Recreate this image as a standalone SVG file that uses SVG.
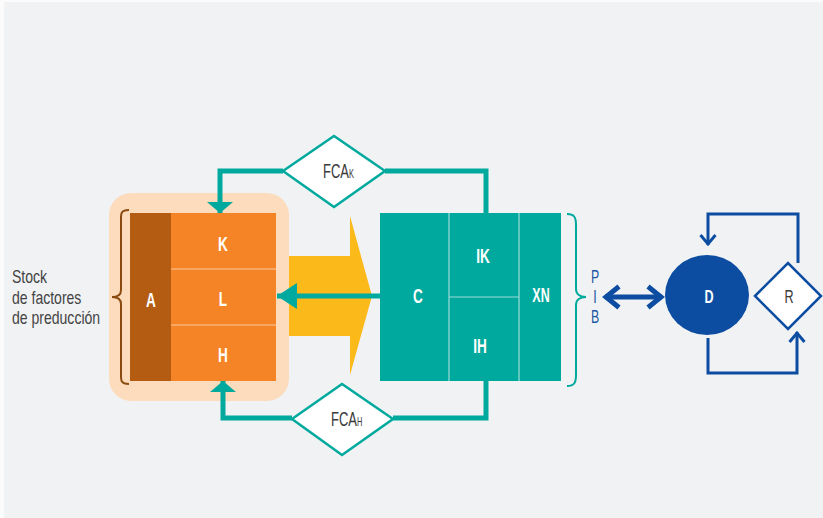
<svg xmlns="http://www.w3.org/2000/svg" width="823" height="518" viewBox="0 0 823 518">
<style>
text{font-family:"Liberation Sans","Arial",sans-serif}
.w{fill:#fff;font-weight:bold;font-size:19.5px;text-anchor:middle}
.g{fill:#444;font-size:18px}
.teal{stroke:#00a99d;stroke-width:5;fill:none}
.blue{stroke:#0d4da1;stroke-width:3;fill:none}
.div{stroke:#9fdcd6;stroke-width:1.2}
.odiv{stroke:#fbc9a0;stroke-width:1.2}
</style>
<defs>
<marker id="ta" markerUnits="userSpaceOnUse" markerWidth="26" markerHeight="26" refX="20" refY="13" orient="auto" viewBox="0 0 26 26">
<path d="M0,0 L20,13 L0,26 Z" fill="#00a99d"/>
</marker>
<marker id="tb" markerUnits="userSpaceOnUse" markerWidth="12" markerHeight="26" refX="11" refY="13" orient="auto" viewBox="0 0 12 26">
<path d="M0,0 L11,13 L0,26 Z" fill="#00a99d"/>
</marker>
<marker id="bc" markerUnits="userSpaceOnUse" markerWidth="14" markerHeight="18" refX="12" refY="9" orient="auto" viewBox="0 0 14 18">
<path d="M2,1.5 L11,9 L2,16.5" fill="none" stroke="#0d4da1" stroke-width="3"/>
</marker>
<marker id="bd" markerUnits="userSpaceOnUse" markerWidth="20" markerHeight="26" refX="17" refY="13" orient="auto-start-reverse" viewBox="0 0 20 26">
<path d="M3,2.5 L16,13 L3,23.5" fill="none" stroke="#0d4da1" stroke-width="5"/>
</marker>
</defs>
<rect width="823" height="518" fill="#fbfbfc"/>
<rect x="4" y="2" width="819" height="516" fill="#f1f2f4"/>

<g id="stock-label">
<text class="g" transform="translate(12,283) scale(0.78,1)">Stock</text>
<text class="g" transform="translate(12,304) scale(0.78,1)">de factores</text>
<text class="g" transform="translate(12,324) scale(0.78,1)">de preducción</text>
</g>

<g id="factores">
<rect x="109" y="193" width="180" height="208" rx="22" fill="#fddcbd"/>
<path d="M129,210 C120,210 121,214 121,222 L121,290 C121,295 117,297 112,297 C117,297 121,299 121,304 L121,372 C121,380 120,384 129,384" fill="none" stroke="#8a4a10" stroke-width="2"/>
<rect x="130" y="213" width="41" height="168" fill="#b35c12"/>
<rect x="171" y="213" width="105" height="168" fill="#f58426"/>
<line class="odiv" x1="171" y1="269" x2="276" y2="269"/>
<line class="odiv" x1="171" y1="325" x2="276" y2="325"/>
<text class="w" transform="translate(151,307) scale(0.7,1)">A</text>
<text class="w" transform="translate(223,251) scale(0.7,1)">K</text>
<text class="w" transform="translate(223,306) scale(0.7,1)">L</text>
<text class="w" transform="translate(223,362) scale(0.7,1)">H</text>
</g>

<g id="flujo">
<path d="M289,256 L350,256 L350,216 L372,296 L350,375 L350,336 L289,336 Z" fill="#fbb91a"/>
</g>

<g id="pib">
<rect x="380" y="213" width="181" height="168" fill="#00a99d"/>
<line class="div" x1="449" y1="213" x2="449" y2="381"/>
<line class="div" x1="519" y1="213" x2="519" y2="381"/>
<line class="div" x1="449" y1="297" x2="519" y2="297"/>
<text class="w" transform="translate(418,303) scale(0.7,1)">C</text>
<text class="w" transform="translate(483,263) scale(0.7,1)">IK</text>
<text class="w" transform="translate(480,353) scale(0.7,1)">IH</text>
<text class="w" transform="translate(541,302) scale(0.64,1)">XN</text>
<path d="M567,214 C574,214 576,217 576,225 L576,289 C576,294 580,297 586,297 C580,297 576,300 576,305 L576,375 C576,383 574,386 567,386" fill="none" stroke="#00a99d" stroke-width="2"/>
<text transform="translate(595,283) scale(0.65,1)" fill="#1a57a5" font-size="19" text-anchor="middle">P</text>
<text transform="translate(595,303) scale(0.65,1)" fill="#1a57a5" font-size="19" text-anchor="middle">I</text>
<text transform="translate(595,323) scale(0.65,1)" fill="#1a57a5" font-size="19" text-anchor="middle">B</text>
</g>

<g id="fcak">
<polygon points="283,171 334,136 385,171 334,207" fill="#fff" stroke="#00a99d" stroke-width="2.5"/>
<text transform="translate(323,178) scale(0.62,1)" fill="#3a3a3a" font-size="21">FCA<tspan font-size="12">K</tspan></text>
</g>

<g id="fcah">
<polygon points="292,419 342,384 393,419 342,455" fill="#fff" stroke="#00a99d" stroke-width="2.5"/>
<text transform="translate(331,426) scale(0.62,1)" fill="#3a3a3a" font-size="21">FCA<tspan font-size="12">H</tspan></text>
</g>

<g id="D">
<ellipse cx="707" cy="295" rx="42" ry="40" fill="#0c4da2"/>
<text class="w" transform="translate(709,303) scale(0.7,1)" style="font-size:18px">D</text>
</g>

<g id="R">
<polygon points="755,296 788,263 821,296 788,329" fill="#fff" stroke="#0d4da1" stroke-width="2.5"/>
<text transform="translate(789,303) scale(0.7,1)" fill="#3a3a3a" font-size="18" text-anchor="middle">R</text>
</g>

<g id="connectors">
<path class="teal" d="M380,296 L277,296" marker-end="url(#ta)"/>
<path class="teal" d="M486,213 L486,171 L385,171"/>
<path class="teal" d="M283,171 L220,171 L220,213" marker-end="url(#tb)"/>
<path class="teal" d="M486,381 L486,418 L393,418"/>
<path class="teal" d="M292,418 L223,418 L223,381" marker-end="url(#tb)"/>
<path d="M605,297 L662,297" fill="none" stroke="#0d4da1" stroke-width="5" marker-start="url(#bd)" marker-end="url(#bd)"/>
<path class="blue" d="M798,263 L798,214 L708,214 L708,245" marker-end="url(#bc)"/>
<path class="blue" d="M708,338 L708,373 L797,373 L797,332" marker-end="url(#bc)"/>
</g>
</svg>
